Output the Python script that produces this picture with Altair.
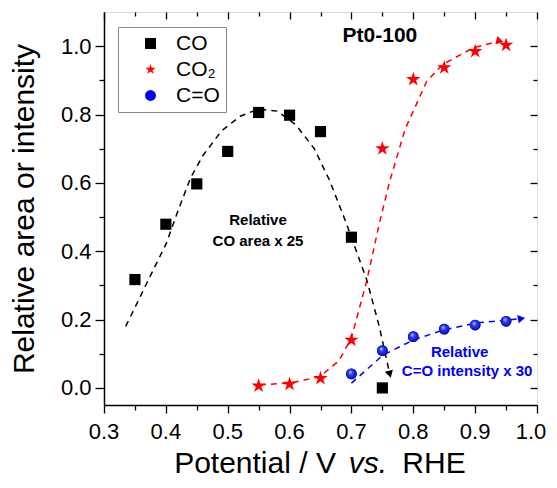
import altair as alt
import pandas as pd

co_x = [0.35, 0.40, 0.45, 0.50, 0.55, 0.60, 0.65, 0.70, 0.75]
co_y = [0.317, 0.479, 0.597, 0.692, 0.806, 0.798, 0.750, 0.441, 0.0]
co2_x = [0.55, 0.60, 0.65, 0.70, 0.75, 0.80, 0.85, 0.90, 0.95]
co2_y = [0.006, 0.011, 0.028, 0.140, 0.700, 0.903, 0.937, 0.985, 1.003]
cdo_x = [0.70, 0.75, 0.80, 0.85, 0.90, 0.95]
cdo_y = [0.041, 0.109, 0.150, 0.172, 0.184, 0.195]

# ---- dashed guide curves ----
fit_co_x = [0.335, 0.35, 0.37, 0.40, 0.42, 0.44, 0.46, 0.49, 0.52, 0.55, 0.58, 0.61,
            0.64, 0.665, 0.69, 0.71, 0.725, 0.745, 0.762]
fit_co_y = [0.18, 0.235, 0.31, 0.42, 0.52, 0.615, 0.68, 0.752, 0.795, 0.816, 0.81, 0.77,
            0.70, 0.606, 0.49, 0.39, 0.315, 0.18, 0.04]
fit_co2_x = [0.552, 0.60, 0.649, 0.68, 0.70, 0.725, 0.745, 0.762, 0.787, 0.822, 0.848,
             0.897, 0.94]
fit_co2_y = [0.009, 0.014, 0.033, 0.08, 0.146, 0.315, 0.48, 0.606, 0.758, 0.898, 0.947,
             0.995, 1.015]
fit_cdo_x = [0.70, 0.751, 0.80, 0.848, 0.902, 0.951, 0.975]
fit_cdo_y = [0.014, 0.096, 0.14, 0.169, 0.19, 0.198, 0.203]

series_names = ["CO", "CO\u2082", "C=O"]
series_colors = ["#000000", "#ff0000", "#0000ff"]
STAR = ("M0,-1L0.2245,-0.309L0.951,-0.309L0.363,0.118L0.588,0.809L0,0.382"
        "L-0.588,0.809L-0.363,0.118L-0.951,-0.309L-0.2245,-0.309Z")
series_shapes = ["square", STAR, "circle"]

x_major = [0.3, 0.4, 0.5, 0.6, 0.7, 0.8, 0.9, 1.0]
x_minor = [0.35, 0.45, 0.55, 0.65, 0.75, 0.85, 0.95]
y_major = [0.0, 0.2, 0.4, 0.6, 0.8, 1.0]
y_minor = [0.1, 0.3, 0.5, 0.7, 0.9]

x_title_parts = ["Potential / V", "vs.", "RHE"]
y_title = "Relative area or intensity"

FONT = "Liberation Sans"

xs = alt.Scale(domain=[0.3, 1.0], nice=False, zero=False)
ys = alt.Scale(domain=[-0.05, 1.1], nice=False, zero=False)

def pts(xv, yv, name):
    return pd.DataFrame({"x": xv, "y": yv, "s": [name] * len(xv)})

df_co = pts(co_x, co_y, series_names[0])
df_co2 = pts(co2_x, co2_y, series_names[1])
df_cdo = pts(cdo_x, cdo_y, series_names[2])

common_axis = dict(labelFont=FONT, labelFontSize=22, labelColor="black",
                   tickColor="black", tickWidth=1.3, domainColor="black",
                   domainWidth=1.5, grid=False, labelFlush=False, labelOverlap=False)
minor_axis = dict(labels=False, domain=False, title=None, tickColor="black",
                  tickWidth=1.3, grid=False)

ax_b_major = alt.Axis(orient="bottom", values=x_major, tickSize=8, labels=False,
                      title=None, tickColor="black", tickWidth=1.3, domainColor="black",
                      domainWidth=1.5, grid=False)
ax_b_minor = alt.Axis(orient="bottom", values=x_minor, tickSize=5, **minor_axis)
ax_t_major = alt.Axis(orient="top", values=x_major, tickSize=7, offset=-7, **minor_axis)
ax_t_minor = alt.Axis(orient="top", values=x_minor, tickSize=4, offset=-4, **minor_axis)

ay_l_major = alt.Axis(orient="left", values=y_major, format=".1f", tickSize=9,
                      labelPadding=4, title=y_title, titleFont=FONT,
                      titleFontSize=30, titleFontWeight="normal", titleColor="black",
                      titlePadding=21, **common_axis)
ay_l_minor = alt.Axis(orient="left", values=y_minor, tickSize=5, **minor_axis)
ay_r_major = alt.Axis(orient="right", values=y_major, tickSize=7, offset=-7, **minor_axis)
ay_r_minor = alt.Axis(orient="right", values=y_minor, tickSize=4, offset=-4, **minor_axis)

def curve(xv, yv, color, xaxis, yaxis):
    df = pd.DataFrame({"x": xv, "y": yv, "o": list(range(len(xv)))})
    return alt.Chart(df).mark_line(strokeDash=[6, 5], strokeWidth=1.5, color=color).encode(
        x=alt.X("x:Q", scale=xs, axis=xaxis),
        y=alt.Y("y:Q", scale=ys, axis=yaxis),
        order="o:Q",
    )

def arrow(xv, yv, color, angle):
    df = pd.DataFrame({"x": [xv[-1]], "y": [yv[-1]]})
    return alt.Chart(df).mark_point(shape="triangle-up", filled=True, color=color,
                                    size=70, angle=angle, opacity=1).encode(
        x=alt.X("x:Q", scale=xs, axis=None),
        y=alt.Y("y:Q", scale=ys, axis=None),
    )

color_enc = alt.Color("s:N", scale=alt.Scale(domain=series_names, range=series_colors),
                      legend=alt.Legend(title=None, orient="none", legendX=14, legendY=15,
                                        labelFont=FONT, labelFontSize=21, labelColor="black",
                                        symbolSize=120, symbolStrokeWidth=0,
                                        strokeColor="#888888", fillColor="white",
                                        padding=6, rowPadding=4, labelOffset=15,
                                        symbolOffset=16))
shape_enc = alt.Shape("s:N", scale=alt.Scale(domain=series_names, range=series_shapes))

def markers(df, size, xaxis, yaxis):
    return alt.Chart(df).mark_point(filled=True, size=size, opacity=1, strokeWidth=0).encode(
        x=alt.X("x:Q", scale=xs, axis=xaxis),
        y=alt.Y("y:Q", scale=ys, axis=yaxis),
        color=color_enc,
        shape=shape_enc,
    )

l_co_curve = curve(fit_co_x, fit_co_y, "#000000", ax_b_major, ay_l_major)
l_co2_curve = curve(fit_co2_x, fit_co2_y, "#ff0000", ax_b_minor, ay_l_minor)
l_cdo_curve = curve(fit_cdo_x, fit_cdo_y, "#0000ff", ax_t_major, ay_r_major)
l_co = markers(df_co, 125, ax_t_minor, ay_r_minor)
l_co2 = markers(df_co2, 230, None, None)
l_cdo = markers(df_cdo, 115, None, None)

# shaded sphere look for the C=O markers
sphere = alt.RadialGradient(
    gradient="radial", x1=0.38, y1=0.32, r1=0.0, x2=0.5, y2=0.5, r2=0.62,
    stops=[alt.GradientStop(offset=0.0, color="#c8d4ff"),
           alt.GradientStop(offset=0.35, color="#2a3cff"),
           alt.GradientStop(offset=1.0, color="#000080")])
l_cdo_shade = alt.Chart(df_cdo).mark_point(shape="circle", filled=True, size=115,
                                           opacity=1, strokeWidth=0, fill=sphere).encode(
    x=alt.X("x:Q", scale=xs, axis=None),
    y=alt.Y("y:Q", scale=ys, axis=None),
)

a_co = arrow(fit_co_x, fit_co_y, "#000000", 165)
a_co2 = arrow(fit_co2_x, fit_co2_y, "#ff0000", 105)
a_cdo = arrow(fit_cdo_x, fit_cdo_y, "#0000ff", 80)

# x tick labels, placed through the x scale (last one nudged to stay inside the page)
def x_labels(vals, dx):
    df = pd.DataFrame({"v": vals, "t": [f"{v:.1f}" for v in vals]})
    return alt.Chart(df).mark_text(font=FONT, fontSize=22, color="black", align="center",
                                   baseline="alphabetic", dx=dx).encode(
        x=alt.X("v:Q", scale=xs, axis=None), y=alt.value(427), text="t:N")

xl_main = x_labels(x_major[:-1], 0)
xl_last = x_labels(x_major[-1:], -6)

# annotations
ann_black = pd.DataFrame({"x": [0.549, 0.549], "y": [0.49, 0.43],
                          "t": ["Relative", "CO area x 25"]})
ann_blue = pd.DataFrame({"x": [0.875, 0.887], "y": [0.105, 0.05],
                         "t": ["Relative", "C=O intensity x 30"]})
ann_title = pd.DataFrame({"x": [0.746], "y": [1.03], "t": ["Pt0-100"]})

def texts(df, color, size):
    return alt.Chart(df).mark_text(font=FONT, fontSize=size, fontWeight="bold",
                                   color=color, align="center", baseline="middle").encode(
        x=alt.X("x:Q", scale=xs, axis=None),
        y=alt.Y("y:Q", scale=ys, axis=None),
        text="t:N",
    )

t1 = texts(ann_black, "#000000", 15)
t2 = texts(ann_blue, "#0000ff", 15)
t3 = texts(ann_title, "#000000", 21)

# x-axis title with italic "vs."
def title_piece(txt, xpix, style):
    return alt.Chart(pd.DataFrame({"t": [txt]})).mark_text(
        font=FONT, fontSize=30, fontStyle=style, color="black",
        align="center", baseline="alphabetic").encode(
        x=alt.value(xpix), y=alt.value(461), text="t:N")

xt1 = title_piece(x_title_parts[0], 151, "normal")
xt2 = title_piece(x_title_parts[1], 264, "italic")
xt3 = title_piece(x_title_parts[2], 330, "normal")

chart = alt.layer(
    l_co_curve, l_co2_curve, l_cdo_curve, l_co, l_co2, l_cdo, l_cdo_shade,
    a_co, a_co2, a_cdo, xl_main, xl_last, t1, t2, t3, xt1, xt2, xt3
).resolve_axis(x="independent", y="independent").properties(
    width=433, height=393,
    autosize=alt.AutoSizeParams(type="none"),
    padding={"left": 96, "top": 4, "right": 12, "bottom": 75},
).configure_view(stroke="black", strokeWidth=1.5).configure(background="white")

chart.save("out.html", embed_options={"renderer": "svg", "actions": False})
